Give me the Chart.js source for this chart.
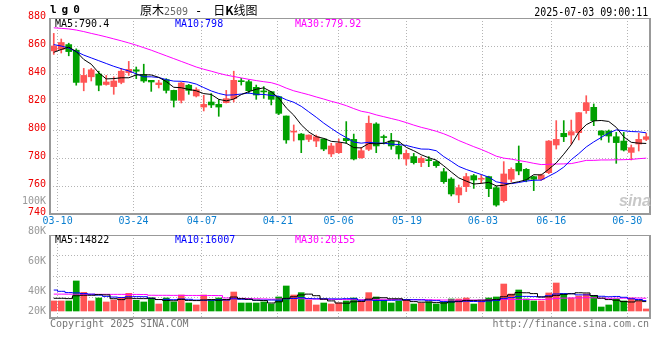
<!DOCTYPE html>
<html>
<head>
<meta charset="utf-8">
<script src="https://cdn.jsdelivr.net/npm/chart.js"></script>
<style>
  html, body { margin: 0; padding: 0; background: #fff; }
  #wrap { position: relative; width: 660px; height: 360px; overflow: hidden;
          font-family: "DejaVu Sans Mono", monospace; font-size: 10px; line-height: 10px; color: #000; }
  #wrap canvas { position: absolute; left: 0; top: 0; }
  .t { position: absolute; white-space: pre; }
</style>
</head>
<body>
<div id="wrap">
  <canvas id="kline" width="660" height="360"></canvas>
  <canvas id="vol" width="660" height="360"></canvas>

  <div class="t" style="left:50px;top:4px;font-weight:bold;font-size:11px;line-height:11px;letter-spacing:5px">lg0</div>
  <div class="t" style="left:140px;top:3px;font:12px/14px 'Noto Sans CJK SC';">原木<span style="color:#666;font-family:'DejaVu Sans Mono';font-size:10px">2509</span><span style="font-family:'DejaVu Sans Mono';margin:0 11px 0 7px">-</span>日<b>K</b>线图</div>
  <div class="t" style="right:12px;top:6px;font-size:12px;line-height:12px;transform:scaleX(0.83);transform-origin:right top">2025-07-03 09:00:11</div>

  <div class="t" style="left:55px;top:19px;color:#000">MA5:790.4</div>
  <div class="t" style="left:175px;top:19px;color:#0000ff">MA10:798</div>
  <div class="t" style="left:295px;top:19px;color:#ff00ff">MA30:779.92</div>

  <div class="t" style="left:55px;top:235px;color:#000">MA5:14822</div>
  <div class="t" style="left:175px;top:235px;color:#0000ff">MA10:16007</div>
  <div class="t" style="left:295px;top:235px;color:#ff00ff">MA30:20155</div>

  <div class="t" style="left:619px;top:193px;font:italic bold 16px/16px 'Liberation Sans';color:#c8c8c8">sina</div>

  <div class="t" style="left:50px;top:319px;color:#777">Copyright 2025 SINA.COM</div>
  <div class="t" style="right:11px;top:319px;color:#777">http://finance.sina.com.cn</div>
</div>

<script>
// trading days shown (03-07 .. 07-03, the last one is today's first minute)
const dates = [
  '03-07','03-10','03-11','03-12','03-13','03-14','03-17','03-18','03-19','03-20',
  '03-21','03-24','03-25','03-26','03-27','03-28','03-31','04-01','04-02','04-03',
  '04-07','04-08','04-09','04-10','04-11','04-14','04-15','04-16','04-17','04-18',
  '04-21','04-22','04-23','04-24','04-25','04-28','04-29','04-30','05-06','05-07',
  '05-08','05-09','05-12','05-13','05-14','05-15','05-16','05-19','05-20','05-21',
  '05-22','05-23','05-26','05-27','05-28','05-29','05-30','06-03','06-04','06-05',
  '06-06','06-09','06-10','06-11','06-12','06-13','06-16','06-17','06-18','06-19',
  '06-20','06-23','06-24','06-25','06-26','06-27','06-30','07-01','07-02','07-03'
];
const tickDates = ['03-10','03-24','04-07','04-21','05-06','05-19','06-03','06-16','06-30'];
const priceTicks = [740, 760, 780, 800, 820, 840, 860, 880];
const volTickVals = [20, 40, 60, 80, 100];
const volTickLabels = ['20K','40K','60K','80K','100K'];

const open = [
  856.5, 857.5, 861, 857, 834, 838, 840, 832.5, 831, 834,
  841, 843, 839.5, 835.5, 832.4, 836, 828.3, 821.2, 832, 824.3,
  816.4, 820, 818.3, 819.5, 822.4, 835.2, 834.5, 830.5, 827.6, 827.4,
  823.8, 810, 798.5, 797.1, 793.3, 792.1, 793.6, 782.9, 783.8, 794,
  793.3, 780.2, 786.2, 804.3, 795, 792.1, 788.6, 779.3, 781, 776.7,
  778.6, 777.4, 770.2, 765, 753.6, 759.5, 767.4, 764.8, 766.7, 758.8,
  749.5, 764.8, 776.2, 771.9, 766.7, 764.8, 769.5, 789.3, 797.6, 796.4,
  798.1, 813.8, 816.2, 799.3, 799.3, 795.2, 792.1, 784, 790, 793.3
];
const close = [
  860, 862.5, 856, 834, 839, 843, 832, 834.3, 835, 842,
  843.3, 842, 835, 834.3, 833.6, 828.3, 821.2, 833.6, 828.3, 828.8,
  818.3, 817.9, 816.4, 822.4, 835.5, 834.5, 828.1, 825, 827.2, 821.9,
  811.9, 792.9, 799, 792.9, 796.4, 795.2, 786.4, 788.6, 790.5, 792.4,
  779.3, 785.2, 804.8, 788.6, 794.6, 788.6, 782.9, 783.3, 776.7, 779.8,
  778.1, 774.5, 763.1, 754.3, 758.8, 766.7, 764.3, 765.2, 758.1, 746.4,
  768.6, 771.9, 770.7, 764.3, 764.8, 767.9, 792.1, 793.3, 795.2, 798.8,
  812.4, 819.5, 806.7, 796.4, 795.7, 791, 785.7, 787.4, 793.3, 795.2
];
const high = [
  869, 865, 862, 858, 844, 844, 842, 839, 838, 844,
  849, 845, 847, 835.5, 835.5, 836.7, 828.5, 834, 832.6, 830.2,
  824.8, 826, 821.7, 828.3, 842, 836.9, 835.7, 832.1, 831, 827.4,
  824, 810, 803.6, 797.5, 796.5, 796.4, 793.6, 790.5, 793.6, 806,
  797.1, 787.6, 810, 805.2, 796.4, 797.6, 791.7, 785.7, 783.3, 781,
  781, 778, 772.6, 766, 760.7, 769, 768.3, 767.9, 767, 759.8,
  777.4, 773, 788.6, 772.5, 767, 768.5, 792.5, 806.7, 806.7, 807.1,
  812.5, 824.5, 818.6, 799.5, 800, 798.3, 798.3, 789.3, 797.6, 797.6
];
const low = [
  854, 855, 853, 832, 828, 835, 828, 832, 825.5, 833,
  839, 836.7, 834, 827.6, 830, 826.4, 816.4, 819.3, 825.5, 823.6,
  813.6, 816, 809.8, 819.3, 820, 832.1, 826.2, 821.9, 822.6, 817.9,
  811, 790.5, 792.1, 783.8, 791.7, 788.1, 785.2, 781, 783.3, 790.5,
  778.6, 779.8, 785.2, 783.8, 790, 786.2, 779.3, 775, 775.7, 773.8,
  773.8, 773.3, 761.9, 752.9, 748.1, 756, 758.3, 761.9, 752.4, 745.5,
  748.5, 763, 768, 763, 756.7, 764, 768.8, 786.4, 791.7, 789.8,
  792.9, 811.9, 803.1, 792.9, 791.2, 776.2, 785, 778.6, 785, 792.4
];
const ma5 = [
  855.5, 857.5, 859.2, 856, 850.4, 847, 840.8, 836.5, 836.7, 837.3,
  837.3, 839.3, 839.5, 839.3, 837.6, 834.6, 830.5, 830.2, 829, 828,
  826, 825.4, 821.9, 820.8, 822.1, 825.3, 827.4, 829.1, 830.1, 827.3,
  822.8, 815.8, 810.6, 803.7, 798.6, 795.3, 794, 791.9, 791.4, 790.6,
  787.4, 787.2, 790.4, 790.1, 790.5, 792.4, 791.9, 787.6, 785.2, 782.3,
  780.2, 778.5, 774.4, 770, 765.8, 763.5, 761.4, 761.9, 762.6, 760.1,
  760.5, 762, 763.1, 764.4, 768.1, 767.9, 772, 776.5, 782.7, 789.5,
  798.4, 803.8, 806.5, 806.8, 806.1, 801.9, 795.1, 791.2, 790.6, 790.4
];
const ma10 = [
  861, 860, 858.5, 856, 853.5, 851.5, 849.5, 847.5, 845.5, 843.8,
  842.2, 840.1, 838, 838, 837.5, 836, 834.9, 834.8, 834.2, 832.8,
  830.3, 827.9, 826.1, 824.9, 825.1, 825.7, 826.4, 825.5, 825.4, 824.7,
  824.1, 821.6, 819.8, 816.9, 813, 809.1, 804.9, 801.2, 797.6, 794.6,
  791.4, 790.6, 791.2, 790.7, 790.6, 789.9, 789.6, 789, 787.6, 786.4,
  786.3, 785.2, 781, 777.6, 774, 771.8, 770, 768.2, 766.3, 763,
  762, 761.7, 762.5, 763.5, 764.1, 764.2, 767, 769.8, 773.5, 778.8,
  783.1, 787.9, 791.5, 794.7, 797.8, 800.1, 799.5, 798.9, 798.7, 798
];
const ma30 = [
  873, 872.6, 872.2, 871.4, 870.3, 869, 867.8, 866.5, 865.1, 863.7,
  862.2, 860.6, 858.8, 857, 855, 853, 851, 849, 847, 845,
  843.4, 842, 840.5, 839.2, 838.2, 837.2, 836.2, 835.3, 834.5, 833.8,
  832.2, 829.9, 828, 826.6, 825.2, 823.6, 822.1, 820.5, 819.1, 817.4,
  815.3, 813.4, 812.4, 810.8, 809.5, 808.2, 806.9, 805.3, 803.5, 801.9,
  800.6, 799.1, 797.3, 795.1, 792.5, 790.3, 788.1, 786.1, 783.8, 781.3,
  779.9, 779.2, 778.2, 777.3, 776.2, 775.3, 775.5, 775.7, 775.8, 776,
  777.1, 778.3, 778.3, 778.6, 778.6, 778.7, 778.8, 779, 779.5, 779.9
];
// volume in thousands of lots
const vol = [
  15.8, 15.8, 15.8, 47.3, 29.4, 15.8, 20.5, 14.2, 17.3, 21.5,
  27.8, 16.8, 14.2, 20.5, 11, 20.5, 14.2, 25.2, 12.6, 9.5,
  25.2, 17.3, 20.5, 17.3, 29.9, 12.6, 12.6, 12.6, 14.2, 11,
  22.1, 39.4, 25.2, 28.9, 17.3, 9.5, 12.6, 11, 12.6, 15.8,
  20.5, 15.8, 28.9, 22.1, 17.3, 12.6, 15.8, 17.3, 11, 12.6,
  14.2, 11, 14.2, 18.9, 18.9, 20.5, 11, 15.8, 20.5, 22.1,
  42.5, 26.8, 33.1, 18.9, 15.8, 15.8, 28.4, 44.1, 26.8, 20.5,
  23.6, 26.8, 23.6, 6.3, 9.5, 18.9, 15.8, 20.5, 15.8, 3.2
];
const volMa5 = [
  20, 20, 19.5, 24, 24.8, 24.8, 25.8, 25.4, 19.4, 17.9,
  20.3, 19.5, 19.5, 20.2, 18.1, 16.6, 16.1, 18.3, 16.7, 16.4,
  17.3, 18, 17, 18, 22, 19.5, 18.6, 17, 16.4, 12.6,
  14.5, 19.9, 22.4, 25.3, 26.6, 24.1, 18.7, 15.9, 12.6, 12.3,
  14.5, 15.1, 18.7, 20.6, 20.9, 19.3, 19.3, 17, 14.8, 13.9,
  14.2, 13.2, 12.6, 14.2, 15.4, 16.7, 16.7, 17, 17.3, 18,
  22.4, 25.5, 29, 28.7, 27.4, 22.1, 22.4, 24.6, 26.2, 27.1,
  28.7, 28.4, 24.3, 20.2, 18, 17, 14.8, 14.2, 16.1, 14.8
];
const volMa10 = [
  33, 31, 29, 28.5, 27.5, 26.5, 25, 23, 22, 21.3,
  22.5, 22.6, 22.5, 19.8, 18, 18.4, 17.8, 18.9, 18.4, 17.2,
  17, 17, 17.7, 17.3, 19.2, 18.4, 18.3, 17, 17.2, 17.3,
  17, 19.2, 19.7, 20.9, 19.6, 19.3, 19.3, 19.1, 19, 19.4,
  19.3, 16.9, 17.3, 16.6, 16.6, 16.9, 17.2, 17.9, 17.7, 17.4,
  16.8, 16.3, 14.8, 14.5, 14.7, 15.4, 15, 14.8, 15.8, 16.7,
  19.5, 21.1, 23, 23, 22.7, 22.2, 24, 26.8, 27.4, 27.3,
  25.4, 25.4, 24.4, 23.2, 22.5, 22.9, 21.6, 19.2, 18.1, 16.4
];
const volMa30 = [
  26.6, 26.6, 26.5, 26.5, 26.4, 26.4, 26.3, 26.3, 26.2, 26.2,
  26.1, 26.1, 26, 24.8, 24.7, 24.7, 24.6, 24.6, 24.5, 24.5,
  24.4, 24.4, 24.3, 20.5, 20.2, 19.9, 19.6, 19.3, 19, 18.6,
  18.8, 19.6, 19.9, 19.3, 18.9, 18.7, 18.5, 18.3, 18.2, 18,
  17.8, 17.7, 18.2, 18.3, 18.5, 18.2, 18.3, 18, 17.9, 18.1,
  17.7, 17.5, 17.3, 17.3, 17, 17.2, 17.2, 17.3, 17.5, 17.8,
  18.5, 18.1, 18.4, 18, 18, 18.2, 18.7, 19.8, 20.3, 20.5,
  20.6, 20.9, 20.8, 20.2, 20, 20.2, 20.2, 20.3, 20.4, 20.1
];

const UP = '#ff5555', DOWN = '#00a000';
const GRID = '#b4b4b4', FRAME = '#999999';
const N = dates.length;

Chart.defaults.font.family = '"DejaVu Sans Mono", monospace';
Chart.defaults.font.size = 10;

const candleColor = close.map((c, i) => c >= open[i] ? UP : DOWN);
const xy = arr => arr.map((v, i) => ({ x: i, y: v }));
const tickIdx = tickDates.map(d => dates.indexOf(d));

// sina spreads the date grid over N-1 steps while candles sit in N slots
function xScale(showLabels) {
  return {
    type: 'linear', min: -0.5, max: N - 0.5, offset: false,
    afterBuildTicks: s => { s.ticks = tickIdx.map(i => ({ value: i * N / (N - 1) - 0.5 })); },
    afterFit: s => { s.height = showLabels ? 20 : 0; },
    ticks: {
      display: showLabels, autoSkip: false, maxRotation: 0, padding: 1, color: '#0b7fd0',
      callback: (v, k) => tickDates[k]
    },
    grid: { color: GRID, drawTicks: false, offset: false },
    border: { display: false, dash: [1, 2] }
  };
}

const frame = {
  id: 'frame',
  afterDraw(chart) {
    const { ctx, chartArea: a } = chart;
    const l = Math.round(a.left), r = Math.round(a.right), t = Math.round(a.top), b = Math.round(a.bottom);
    ctx.save();
    ctx.strokeStyle = FRAME;
    ctx.lineWidth = 1;
    ctx.beginPath(); ctx.moveTo(l, t + 0.5); ctx.lineTo(r, t + 0.5); ctx.stroke();
    ctx.lineWidth = 2;
    ctx.beginPath(); ctx.moveTo(l, t); ctx.lineTo(l, b); ctx.lineTo(r, b); ctx.lineTo(r, t); ctx.stroke();
    ctx.restore();
  }
};

const maLine = (label, data, color, order, stepped) => ({
  type: 'line', label, data: xy(data), borderColor: color, borderWidth: 1,
  pointRadius: 0, tension: 0, order, stepped: stepped || false
});

new Chart(document.getElementById('kline'), {
  type: 'bar',
  data: {
    datasets: [
      maLine('MA5', ma5, '#000000', 1),
      maLine('MA10', ma10, '#0000ff', 2),
      maLine('MA30', ma30, '#ff00ff', 3),
      {
        label: 'body', data: open.map((o, i) => ({ x: i, y: [o, close[i]] })),
        backgroundColor: candleColor, barThickness: 6, minBarLength: 1, grouped: false, order: 4
      },
      {
        label: 'wick', data: low.map((l, i) => ({ x: i, y: [l, high[i]] })),
        backgroundColor: candleColor, barThickness: 1, grouped: false, order: 5
      }
    ]
  },
  options: {
    responsive: false, animation: false, events: [],
    layout: { padding: { left: 0, right: 10, top: 18, bottom: 126 } },
    plugins: { legend: { display: false }, tooltip: { enabled: false } },
    scales: {
      x: xScale(true),
      y: {
        type: 'linear', min: 740, max: 880,
        afterBuildTicks: s => { s.ticks = priceTicks.map(v => ({ value: v })); },
        afterFit: s => { s.width = 50; },
        ticks: { color: '#ee0000', padding: 4, labelOffset: -2 },
        grid: { color: GRID, drawTicks: false },
        border: { display: false, dash: [1, 2] }
      }
    }
  },
  plugins: [frame]
});

const volLabels = {
  id: 'volLabels',
  afterDraw(chart) {
    const s = chart.scales.yl, a = chart.chartArea, ctx = chart.ctx;
    ctx.save();
    ctx.font = '10px "DejaVu Sans Mono"';
    ctx.fillStyle = '#999999';
    ctx.textAlign = 'right';
    ctx.textBaseline = 'middle';
    volTickVals.forEach((v, k) => {
      const y = Math.min(s.getPixelForValue(v), a.bottom - 7);
      ctx.fillText(volTickLabels[k], a.left - 4, y);
    });
    ctx.restore();
  }
};

new Chart(document.getElementById('vol'), {
  type: 'bar',
  data: {
    datasets: [
      maLine('MA5', volMa5, '#000000', 1, 'middle'),
      maLine('MA10', volMa10, '#0000ff', 2, 'middle'),
      maLine('MA30', volMa30, '#ff00ff', 3, 'middle'),
      {
        label: 'vol', data: xy(vol), backgroundColor: candleColor,
        barThickness: 6, grouped: false, order: 4
      }
    ]
  },
  options: {
    responsive: false, animation: false, events: [],
    layout: { padding: { left: 0, right: 10, top: 235, bottom: 42 } },
    plugins: { legend: { display: false }, tooltip: { enabled: false } },
    scales: {
      x: xScale(false),
      y: {
        type: 'linear', position: 'left', min: -11.025, max: 119.7,
        afterBuildTicks: s => {
          s.ticks = [1, 2, 3].map(k => ({ value: s.min + k * (s.max - s.min) / 4 }));
        },
        afterFit: s => { s.width = 50; },
        ticks: { display: false },
        grid: { color: GRID, drawTicks: false },
        border: { display: false, dash: [1, 2] }
      },
      yl: { type: 'linear', position: 'left', display: false, min: 22, max: 77.333 }
    }
  },
  plugins: [frame, volLabels]
});
</script>
</body>
</html>
